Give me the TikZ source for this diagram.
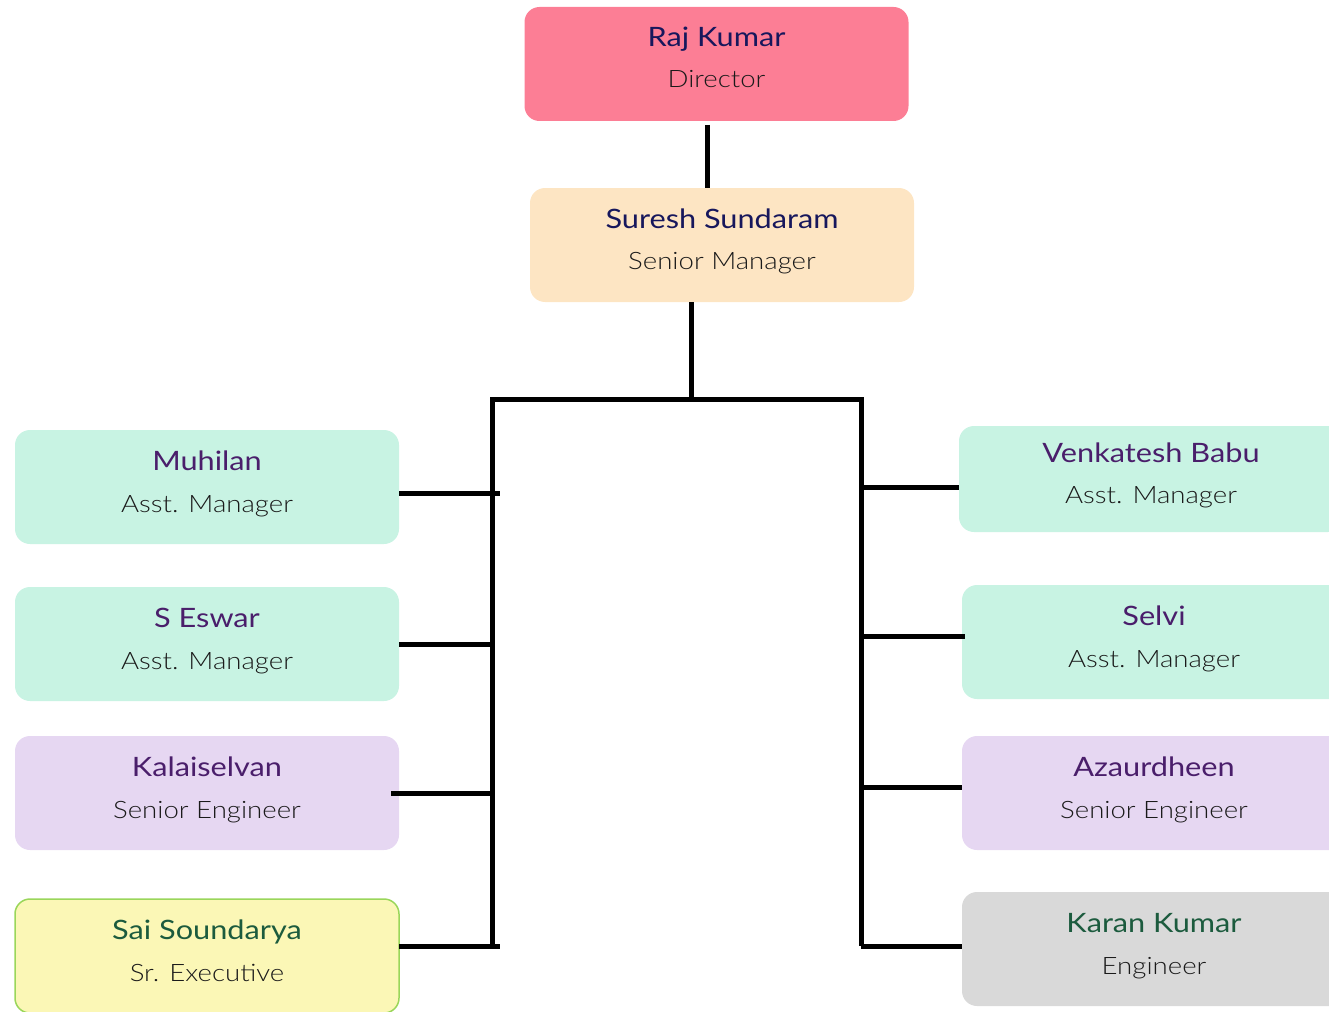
\documentclass[tikz,border=0pt]{standalone}
\usepackage{fontspec}
\setmainfont{Lato}[FakeStretch=1.15]
\newfontfamily\lightfont{Lato Light}[FakeStretch=1.15]
\newfontfamily\namefont{Lato}[FakeStretch=1.15]
\usetikzlibrary{calc}
\definecolor{pinkbox}{HTML}{FC7E95}
\definecolor{peachbox}{HTML}{FDE5C3}
\definecolor{mintbox}{HTML}{C8F3E3}
\definecolor{lavbox}{HTML}{E6D7F2}
\definecolor{yelbox}{HTML}{FBF7B6}
\definecolor{yelborder}{HTML}{9AD65A}
\definecolor{graybox}{HTML}{D9D9D9}
\definecolor{navytxt}{HTML}{17175C}
\definecolor{purptxt}{HTML}{4A1E6B}
\definecolor{greentxt}{HTML}{1C5B3E}
\definecolor{titletxt}{HTML}{1A1A1A}
\tikzset{
  box/.style={rectangle, rounded corners=15pt, draw=none, minimum width=384pt, minimum height=114pt, inner sep=0pt, outer sep=0pt},
  nm/.style={anchor=base, font=\namefont\fontsize{26.7}{30}\selectfont, inner sep=0pt},
  ttl/.style={anchor=base, font=\lightfont\fontsize{24}{28}\selectfont, text=titletxt, inner sep=0pt},
  conn/.style={line width=5pt, draw=black},
}
\begin{document}
\begin{tikzpicture}[x=1pt, y=-1pt]
\useasboundingbox (0,0) rectangle (1329,1011);
% boxes
\node[box, fill=pinkbox] (raj) at (716.5,64) {};
\node[box, fill=peachbox] (sur) at (722,245) {};
\node[box, fill=mintbox] (muh) at (207,487) {};
\node[box, fill=mintbox] (esw) at (207,644) {};
\node[box, fill=lavbox] (kal) at (207,793) {};
\node[box, fill=yelbox, draw=yelborder, line width=1.5pt] (sai) at (207,956) {};
\node[box, fill=mintbox, minimum height=106pt] (ven) at (1151,479) {};
\node[box, fill=mintbox] (sel) at (1154,642) {};
\node[box, fill=lavbox] (aza) at (1154,793) {};
\node[box, fill=graybox] (kar) at (1154,949) {};
% texts
\node[nm, text=navytxt] (rajn) at ($(raj.north)+(0,40)$) {Raj Kumar};
\node[ttl] (rajt) at ($(raj.north)+(0,81)$) {Director};
\node[nm, text=navytxt] (surn) at ($(sur.north)+(0,40)$) {Suresh Sundaram};
\node[ttl] (surt) at ($(sur.north)+(0,81)$) {Senior Manager};
\node[nm, text=purptxt] (muhn) at ($(muh.north)+(0,40)$) {Muhilan};
\node[ttl] (muht) at ($(muh.north)+(0,82)$) {Asst. Manager};
\node[nm, text=purptxt] (eswn) at ($(esw.north)+(0,40)$) {S Eswar};
\node[ttl] (eswt) at ($(esw.north)+(0,82)$) {Asst. Manager};
\node[nm, text=purptxt] (kaln) at ($(kal.north)+(0,40)$) {Kalaiselvan};
\node[ttl] (kalt) at ($(kal.north)+(0,82)$) {Senior Engineer};
\node[nm, text=greentxt] (sain) at ($(sai.north)+(0,40)$) {Sai Soundarya};
\node[ttl] (sait) at ($(sai.north)+(0,82)$) {Sr. Executive};
\node[nm, text=purptxt] (venn) at ($(ven.north)+(0,36)$) {Venkatesh Babu};
\node[ttl] (vent) at ($(ven.north)+(0,77)$) {Asst. Manager};
\node[nm, text=purptxt] (seln) at ($(sel.north)+(0,40)$) {Selvi};
\node[ttl] (selt) at ($(sel.north)+(0,82)$) {Asst. Manager};
\node[nm, text=purptxt] (azan) at ($(aza.north)+(0,40)$) {Azaurdheen};
\node[ttl] (azat) at ($(aza.north)+(0,82)$) {Senior Engineer};
\node[nm, text=greentxt] (karn) at ($(kar.north)+(0,40)$) {Karan Kumar};
\node[ttl] (kart) at ($(kar.north)+(0,82)$) {Engineer};
% bus coordinates
\coordinate (top) at (691,399);
\coordinate (tl) at (492,399);
\coordinate (tr) at (861,399);
\coordinate (bl) at (492,946);
\coordinate (br) at (861,946);
\coordinate (jm) at (500,493);
\coordinate (je) at (492,644);
\coordinate (jk) at (492,793);
\coordinate (js) at (500,946);
\coordinate (jv) at (861,487);
\coordinate (jse) at (861,636);
\coordinate (ja) at (861,787);
% connectors
\draw[conn] ([xshift=-9.5pt,yshift=-4pt]raj.south) -- ([xshift=-15pt]sur.north);
\draw[conn] ([xshift=-31pt]sur.south) -- (top);
\draw[conn] (bl) -- (tl) -- (tr) -- (br);
\draw[conn] (muh.east |- jm) -- (jm);
\draw[conn] (esw.east |- je) -- (je);
\draw[conn] ([xshift=-8pt]kal.east |- jk) -- (jk);
\draw[conn] (sai.east |- js) -- (js);
\draw[conn] (jv) -- (ven.west |- jv);
\draw[conn] (jse) -- ([xshift=3pt]sel.west |- jse);
\draw[conn] (ja) -- (aza.west |- ja);
\draw[conn] (br) -- (kar.west |- br);
\end{tikzpicture}
\end{document}
